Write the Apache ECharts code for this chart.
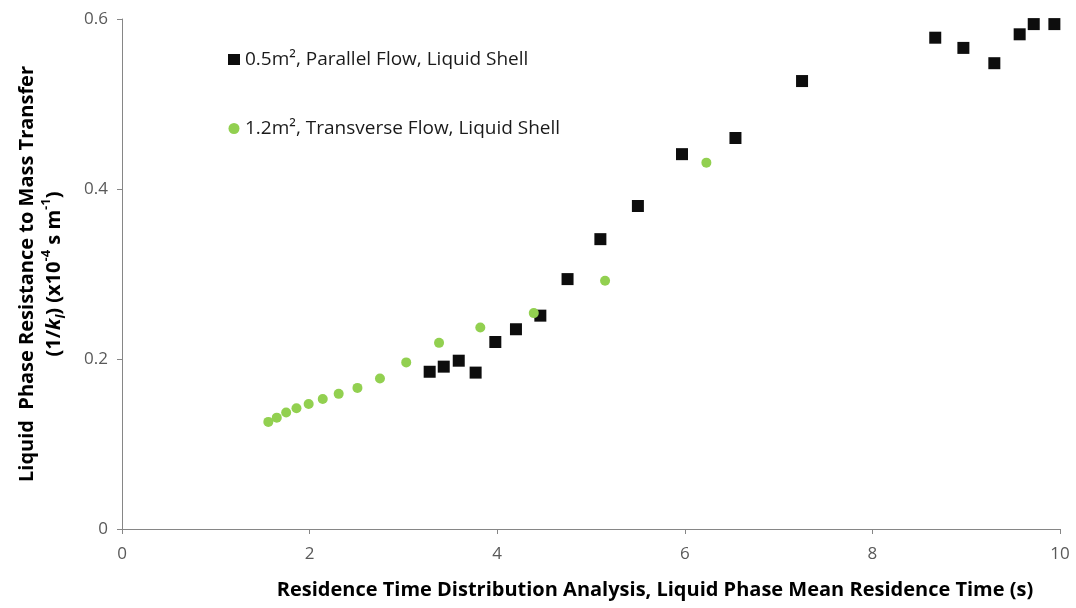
<!DOCTYPE html>
<html>
<head>
<meta charset="utf-8">
<script src="https://cdn.jsdelivr.net/npm/echarts@6/dist/echarts.min.js"></script>
<style>
  html, body { margin: 0; padding: 0; background: #ffffff; }
  #chart { width: 1076px; height: 608px; }
</style>
</head>
<body>
<div id="chart"></div>
<script>
// Mean residence time (s) and liquid phase resistance (1/kl, x10^-4 s/m)
const parallelX = [3.28, 3.43, 3.59, 3.77, 3.98, 4.20, 4.46, 4.75, 5.10, 5.50, 5.97, 6.54, 7.25, 8.67, 8.97, 9.30, 9.57, 9.72, 9.94];
const parallelY = [0.185, 0.191, 0.198, 0.184, 0.220, 0.235, 0.251, 0.294, 0.341, 0.380, 0.441, 0.460, 0.527, 0.578, 0.566, 0.548, 0.582, 0.594, 0.594];

const transverseX = [1.56, 1.65, 1.75, 1.86, 1.99, 2.14, 2.31, 2.51, 2.75, 3.03, 3.38, 3.82, 4.39, 5.15, 6.23];
const transverseY = [0.126, 0.131, 0.137, 0.142, 0.147, 0.153, 0.159, 0.166, 0.177, 0.196, 0.219, 0.237, 0.254, 0.292, 0.431];

const seriesNames = ['0.5m\u00b2, Parallel Flow, Liquid Shell', '1.2m\u00b2, Transverse Flow, Liquid Shell'];
const xTicks = [0, 2, 4, 6, 8, 10];
const yTicks = [0, 0.2, 0.4, 0.6];

const pairs = (xs, ys) => xs.map((x, i) => [x, ys[i]]);

const FONT = '"Open Sans", "Noto Sans", sans-serif';
const axisGray = '#868686';
const labelGray = '#595959';

const chart = echarts.init(document.getElementById('chart'), null, { renderer: 'canvas' });

chart.setOption({
  backgroundColor: '#ffffff',
  animation: false,
  grid: { left: 122, right: 16, top: 19, bottom: 79, containLabel: false },
  legend: {
    orient: 'vertical',
    left: 223,
    top: 45,
    itemGap: 50,
    itemWidth: 12,
    itemHeight: 11,
    textStyle: { fontFamily: FONT, fontSize: 19, color: '#1a1a1a', padding: [0, 0, 0, 0] },
    data: [
      { name: seriesNames[0], icon: 'rect', itemStyle: { color: '#0d0d0d', opacity: 1 } },
      { name: seriesNames[1], icon: 'circle', itemStyle: { color: '#92d050', opacity: 1 } }
    ]
  },
  xAxis: {
    type: 'value',
    min: xTicks[0],
    max: xTicks[xTicks.length - 1],
    interval: 2,
    splitLine: { show: false },
    axisLine: { show: true, onZero: false, lineStyle: { color: axisGray, width: 1 } },
    axisTick: { show: true, inside: false, length: 5, lineStyle: { color: axisGray } },
    axisLabel: { fontFamily: FONT, fontSize: 17, color: labelGray, margin: 17 },
    name: 'Residence Time Distribution Analysis, Liquid Phase Mean Residence Time (s)',
    nameLocation: 'middle',
    nameGap: 51,
    nameTextStyle: { fontFamily: FONT, fontSize: 20, fontWeight: 'bold', color: '#000000', padding: [0, 0, 0, 128] }
  },
  yAxis: {
    type: 'value',
    min: yTicks[0],
    max: yTicks[yTicks.length - 1],
    interval: 0.2,
    splitLine: { show: false },
    axisLine: { show: true, onZero: false, lineStyle: { color: axisGray, width: 1 } },
    axisTick: { show: true, inside: false, length: 5, lineStyle: { color: axisGray } },
    axisLabel: {
      fontFamily: FONT, fontSize: 17, color: labelGray, margin: 14,
      formatter: v => (v === 0 ? '0' : v.toFixed(1))
    },
    name: '{t|Liquid  Phase Resistance to Mass Transfer}\n{t|(1/}{i|k}{sub|l}{t|) (x10}{sup|-4}{t| s m}{sup|-1}{t|)}',
    nameLocation: 'middle',
    nameRotate: 90,
    nameGap: 54,
    nameTextStyle: {
      fontFamily: FONT, fontWeight: 'bold', color: '#000000', align: 'center',
      rich: {
        t: { fontFamily: FONT, fontSize: 20, fontWeight: 'bold', color: '#000000', lineHeight: 26 },
        i: { fontFamily: FONT, fontSize: 20, fontWeight: 'bold', fontStyle: 'italic', color: '#000000', lineHeight: 26 },
        sub: { fontFamily: FONT, fontSize: 13, fontWeight: 'bold', fontStyle: 'italic', color: '#000000', verticalAlign: 'bottom', lineHeight: 20 },
        sup: { fontFamily: FONT, fontSize: 13, fontWeight: 'bold', color: '#000000', verticalAlign: 'top', lineHeight: 28 }
      }
    }
  },
  series: [
    {
      name: seriesNames[0],
      type: 'scatter',
      symbol: 'rect',
      symbolSize: 12,
      itemStyle: { color: '#0d0d0d', opacity: 1 },
      data: pairs(parallelX, parallelY),
      z: 2
    },
    {
      name: seriesNames[1],
      type: 'scatter',
      symbol: 'circle',
      symbolSize: 10,
      itemStyle: { color: '#92d050', opacity: 1 },
      data: pairs(transverseX, transverseY),
      z: 3
    }
  ]
});
</script>
</body>
</html>
